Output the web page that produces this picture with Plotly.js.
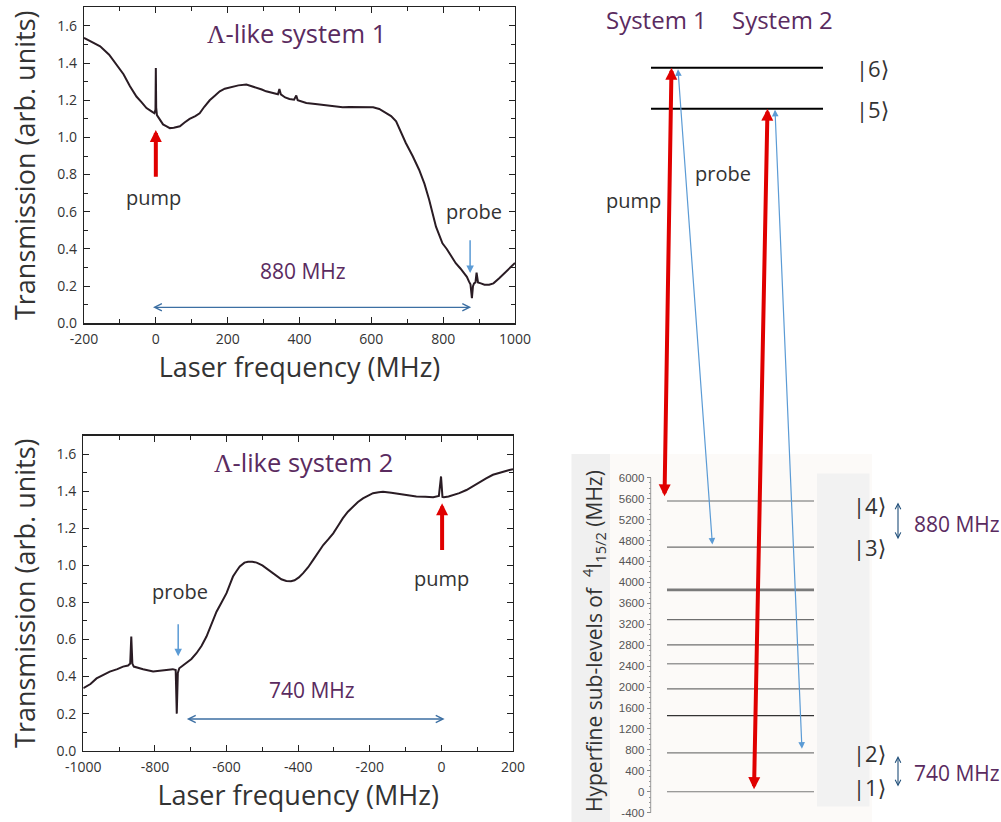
<!DOCTYPE html>
<html>
<head>
<meta charset="utf-8">
<script src="https://cdn.plot.ly/plotly-3.0.1.min.js"></script>
<style>html,body{margin:0;padding:0;background:#fff;}#chart{width:1001px;height:822px;}</style>
</head>
<body>
<div id="chart"></div>
<script>
// ---------- Data: Lambda-like system 1 (transmission vs laser frequency) ----------
const sys1Freq = [-200,-180,-155,-130,-109,-90,-72,-54,-40,-26,-12,-4,-1,0,1,3,6,12,20,30,39,50,67,80,94,110,122,135,150,165,178,192,206,230,252,265,280,295,307,325,340,344,348,360,372,385,391,395,405,419,450,493,520,539,560,585,605,622,641,655,669,682,696,715,733,748,761,780,790,798,810,817,835,848,858,866,872,876,880,883,886,890,893,897,905,915,928,940,956,975,997,1000];
const sys1Trans = [1.536,1.515,1.49,1.445,1.39,1.34,1.275,1.22,1.19,1.158,1.14,1.13,1.15,1.374,1.16,1.12,1.11,1.09,1.07,1.06,1.05,1.052,1.06,1.08,1.10,1.115,1.13,1.165,1.20,1.225,1.248,1.262,1.27,1.28,1.285,1.278,1.27,1.258,1.248,1.24,1.232,1.26,1.232,1.215,1.207,1.203,1.225,1.2,1.195,1.185,1.178,1.167,1.162,1.164,1.163,1.165,1.162,1.153,1.131,1.115,1.087,1.03,0.97,0.9,0.826,0.75,0.665,0.52,0.47,0.43,0.4,0.377,0.323,0.295,0.27,0.25,0.224,0.21,0.135,0.2,0.215,0.22,0.273,0.22,0.215,0.208,0.207,0.215,0.242,0.28,0.323,0.325];

// ---------- Data: Lambda-like system 2 ----------
const sys2Freq = [-1000,-980,-963,-945,-926,-905,-889,-875,-869,-866,-863,-859,-845,-833,-805,-785,-768,-750,-742,-739,-736,-732,-722,-712,-698,-684,-670,-656,-642,-628,-614,-600,-590,-582,-572,-563,-550,-540,-528,-516,-500,-489,-475,-461,-447,-433,-420,-410,-398,-386,-372,-358,-344,-330,-316,-302,-288,-275,-261,-247,-233,-219,-205,-191,-175,-163,-140,-116,-92,-70,-45,-23,-7,-1,3,7,20,33,50,70,90,107,125,144,170,190,200];
const sys2Trans = [0.337,0.36,0.39,0.41,0.427,0.44,0.454,0.46,0.47,0.616,0.47,0.454,0.445,0.44,0.427,0.43,0.436,0.44,0.435,0.20,0.42,0.445,0.46,0.475,0.495,0.526,0.565,0.616,0.68,0.75,0.80,0.85,0.90,0.94,0.97,0.994,1.015,1.02,1.02,1.015,1.0,0.985,0.965,0.943,0.925,0.916,0.915,0.92,0.935,0.958,0.99,1.03,1.07,1.11,1.14,1.173,1.215,1.255,1.29,1.318,1.342,1.362,1.378,1.39,1.395,1.398,1.392,1.386,1.378,1.372,1.37,1.368,1.375,1.48,1.37,1.368,1.372,1.38,1.39,1.407,1.43,1.452,1.47,1.489,1.505,1.515,1.519];

// ---------- Tick labels ----------
const freqTicks1 = [-200, 0, 200, 400, 600, 800, 1000];
const freqTicks2 = [-1000, -800, -600, -400, -200, 0, 200];
const transTicks = [0, 0.2, 0.4, 0.6, 0.8, 1.0, 1.2, 1.4, 1.6];

// ---------- Data: hyperfine sub-levels of 4I15/2 (MHz) ----------
const hyperfineLevels = [0, 744, 1455, 1965, 2445, 2805, 3290, 3845, 3870, 4675, 5555];
const levelLabels = {1: 0, 2: 744, 3: 4675, 4: 5555};
// excited levels |5>, |6> drawn schematically above the axis break
const upperLevels = {5: 13050, 6: 13833};
const splittings = ["880 MHz", "740 MHz"];
const energyTicks = [-400,0,400,800,1200,1600,2000,2400,2800,3200,3600,4000,4400,4800,5200,5600,6000];

// ---------- Styles ----------
const FONT = "Open Sans, Noto Sans, DejaVu Sans, sans-serif";
const PURPLE = "#5a2b5f";
const DARK = "#333333";
const RED = "#e00000";
const LBLUE = "#5b9bd5";
const SBLUE = "#3c6fa3";
const NAVY = "#1f4e79";
const lam = '<span style="font-family:Liberation Serif">Λ</span>';

const px2paperX = p => p / 1001;
const px2paperY = p => 1 - p / 822;
const lab = v => String(v).replace("\u2212", "-");

function transAxisX(domain, range, anchor, ticks) {
  return {
    domain: domain, range: range, anchor: anchor,
    tickmode: "array", tickvals: ticks, ticktext: ticks.map(lab),
    ticks: "inside", ticklen: 6, tickwidth: 1, tickcolor: "#222", ticklabelstandoff: 3,
    minor: {tickmode: "linear", tick0: 0, dtick: 100, ticks: "inside", ticklen: 4, tickcolor: "#222"},
    showline: true, linecolor: "#222", linewidth: 1.3, mirror: "ticks",
    showgrid: false, zeroline: false,
    tickfont: {family: FONT, size: 14, color: DARK},
    title: {text: "Laser frequency (MHz)", font: {family: FONT, size: 27, color: DARK}, standoff: 7}
  };
}
function transAxisY(domain, anchor) {
  return {
    domain: domain, range: [0, 1.7], anchor: anchor,
    tickmode: "array", tickvals: transTicks, ticktext: transTicks.map(v => v.toFixed(1)),
    ticks: "inside", ticklen: 6, tickwidth: 1, tickcolor: "#222", ticklabelstandoff: 3,
    minor: {tickmode: "linear", tick0: 0, dtick: 0.1, ticks: "inside", ticklen: 4, tickcolor: "#222"},
    showline: true, linecolor: "#222", linewidth: 1.3, mirror: "ticks",
    showgrid: false, zeroline: false,
    tickfont: {family: FONT, size: 14, color: DARK},
    title: {text: "Transmission (arb. units)", font: {family: FONT, size: 27, color: DARK}, standoff: 13}
  };
}

const traces = [
  {x: sys1Freq, y: sys1Trans, xaxis: "x", yaxis: "y", type: "scatter", mode: "lines",
   line: {color: "#2a1c24", width: 2}, hoverinfo: "skip"},
  {x: sys2Freq, y: sys2Trans, xaxis: "x2", yaxis: "y2", type: "scatter", mode: "lines",
   line: {color: "#2a1c24", width: 2}, hoverinfo: "skip"}
];

// ---------- shapes ----------
const shapes = [];
// backgrounds of the energy diagram
shapes.push({type: "rect", xref: "paper", yref: "paper", layer: "below",
  x0: px2paperX(610), x1: px2paperX(872), y0: 0, y1: px2paperY(454),
  fillcolor: "#fcfaf8", line: {width: 0}});
shapes.push({type: "rect", xref: "paper", yref: "paper", layer: "below",
  x0: px2paperX(571.5), x1: px2paperX(610), y0: 0, y1: px2paperY(454),
  fillcolor: "#f0f0f0", line: {width: 0}});
shapes.push({type: "rect", xref: "paper", yref: "paper", layer: "below",
  x0: px2paperX(817), x1: px2paperX(869.5), y0: px2paperY(806.5), y1: px2paperY(473.5),
  fillcolor: "#f2f2f2", line: {width: 0}});
// energy axis line
shapes.push({type: "line", xref: "paper", yref: "y3", x0: px2paperX(650.7), x1: px2paperX(650.7),
  y0: energyTicks[0], y1: energyTicks[energyTicks.length - 1], line: {color: "#9a9a9a", width: 1}});
// hyperfine level lines
const levelStyle = {0: ["#7a7a7a", 1.2], 744: ["#7a7a7a", 1.2], 1455: ["#333", 1.3], 1965: ["#6f6f6f", 1.2],
  2445: ["#999", 1.6], 2805: ["#6f6f6f", 1.2], 3290: ["#6f6f6f", 1.2], 3845: ["#7a7a7a", 1.4],
  3870: ["#7a7a7a", 1.4], 4675: ["#6f6f6f", 1.2], 5555: ["#9a9a9a", 1.6]};
hyperfineLevels.forEach(v => {
  const st = levelStyle[v] || ["#777", 1.2];
  shapes.push({type: "line", xref: "x3", yref: "y3", x0: 667, x1: 814, y0: v, y1: v,
    line: {color: st[0], width: st[1]}});
});
// excited levels
Object.values(upperLevels).forEach(v => {
  shapes.push({type: "line", xref: "x3", yref: "y3", x0: 651, x1: 823, y0: v, y1: v,
    line: {color: "#000", width: 2}});
});

// ---------- annotations ----------
const ann = [];
function txt(o) {
  return Object.assign({showarrow: false, xanchor: "center", yanchor: "middle",
    font: {family: FONT, size: 20, color: DARK}}, o);
}
// panel 1
ann.push(txt({xref: "x", yref: "y", x: 391, y: 1.56, text: lam + "-like system 1", font: {family: FONT, size: 25.5, color: PURPLE}}));
ann.push(txt({xref: "x", yref: "y", x: -6, y: 0.675, text: "pump"}));
ann.push(txt({xref: "x", yref: "y", x: 886, y: 0.60, text: "probe"}));
ann.push(txt({xref: "x", yref: "y", x: 411, y: 0.28, text: splittings[0], font: {family: FONT, size: 21, color: PURPLE}}));
ann.push({xref: "x", yref: "y", axref: "x", ayref: "y", x: 0, y: 1.04, ax: 0, ay: 0.78, text: "", showarrow: true,
  arrowhead: 2, arrowsize: 0.6, arrowwidth: 4, arrowcolor: RED});
ann.push({xref: "x", yref: "y", axref: "x", ayref: "y", x: 875, y: 0.27, ax: 875, ay: 0.455, text: "", showarrow: true,
  arrowhead: 2, arrowsize: 1, arrowwidth: 1.5, arrowcolor: LBLUE});
ann.push({xref: "x", yref: "y", axref: "x", ayref: "y", x: 878, y: 0.086, ax: -12, ay: 0.086, text: "", showarrow: true,
  arrowside: "end+start", arrowhead: 5, startarrowhead: 5, arrowsize: 1.1, startarrowsize: 1.1, arrowwidth: 1.3, arrowcolor: SBLUE});
// panel 2
ann.push(txt({xref: "x2", yref: "y2", x: -386, y: 1.56, text: lam + "-like system 2", font: {family: FONT, size: 25.5, color: PURPLE}}));
ann.push(txt({xref: "x2", yref: "y2", x: -731, y: 0.86, text: "probe"}));
ann.push(txt({xref: "x2", yref: "y2", x: 0, y: 0.93, text: "pump"}));
ann.push(txt({xref: "x2", yref: "y2", x: -361, y: 0.328, text: splittings[1], font: {family: FONT, size: 21, color: PURPLE}}));
ann.push({xref: "x2", yref: "y2", axref: "x2", ayref: "y2", x: 2, y: 1.335, ax: 2, ay: 1.075, text: "", showarrow: true,
  arrowhead: 2, arrowsize: 0.6, arrowwidth: 4, arrowcolor: RED});
ann.push({xref: "x2", yref: "y2", axref: "x2", ayref: "y2", x: -735, y: 0.51, ax: -735, ay: 0.69, text: "", showarrow: true,
  arrowhead: 2, arrowsize: 1, arrowwidth: 1.5, arrowcolor: LBLUE});
ann.push({xref: "x2", yref: "y2", axref: "x2", ayref: "y2", x: 9, y: 0.171, ax: -715, ay: 0.171, text: "", showarrow: true,
  arrowside: "end+start", arrowhead: 5, startarrowhead: 5, arrowsize: 1.1, startarrowsize: 1.1, arrowwidth: 1.3, arrowcolor: SBLUE});
// energy diagram
ann.push(txt({xref: "paper", yref: "paper", x: px2paperX(656), y: px2paperY(20), text: "System 1", font: {family: FONT, size: 24, color: PURPLE}}));
ann.push(txt({xref: "paper", yref: "paper", x: px2paperX(782), y: px2paperY(20), text: "System 2", font: {family: FONT, size: 24, color: PURPLE}}));
ann.push(txt({xref: "x3", yref: "y3", x: 633, y: 11300, text: "pump"}));
ann.push(txt({xref: "x3", yref: "y3", x: 723, y: 11820, text: "probe"}));
ann.push(txt({xref: "x3", yref: "y3", x: 872, y: upperLevels[6], text: "|6⟩", font: {family: FONT, size: 22, color: DARK}}));
ann.push(txt({xref: "x3", yref: "y3", x: 872, y: upperLevels[5], text: "|5⟩", font: {family: FONT, size: 22, color: DARK}}));
ann.push(txt({xref: "x3", yref: "y3", x: 869, y: levelLabels[4], yshift: -4, text: "|4⟩", font: {family: FONT, size: 22, color: DARK}}));
ann.push(txt({xref: "x3", yref: "y3", x: 869, y: levelLabels[3], text: "|3⟩", font: {family: FONT, size: 22, color: DARK}}));
ann.push(txt({xref: "x3", yref: "y3", x: 869, y: levelLabels[2], text: "|2⟩", font: {family: FONT, size: 22, color: DARK}}));
ann.push(txt({xref: "x3", yref: "y3", x: 869, y: levelLabels[1], yshift: 5, text: "|1⟩", font: {family: FONT, size: 22, color: DARK}}));
ann.push(txt({xref: "x3", yref: "y3", x: 912, y: (levelLabels[4] + levelLabels[3]) / 2, xanchor: "left", text: splittings[0], font: {family: FONT, size: 21, color: PURPLE}}));
ann.push(txt({xref: "x3", yref: "y3", x: 912, y: (levelLabels[2] + levelLabels[1]) / 2 - 20, xanchor: "left", text: splittings[1], font: {family: FONT, size: 21, color: PURPLE}}));
ann.push({xref: "x3", yref: "y3", axref: "x3", ayref: "y3", x: 898, y: levelLabels[3] + 150, ax: 898, ay: levelLabels[4], text: "", showarrow: true,
  arrowside: "end+start", arrowhead: 5, startarrowhead: 5, arrowsize: 1, startarrowsize: 1, arrowwidth: 1.1, arrowcolor: NAVY});
ann.push({xref: "x3", yref: "y3", axref: "x3", ayref: "y3", x: 898, y: levelLabels[1] + 100, ax: 898, ay: levelLabels[2] - 30, text: "", showarrow: true,
  arrowside: "end+start", arrowhead: 5, startarrowhead: 5, arrowsize: 1, startarrowsize: 1, arrowwidth: 1.1, arrowcolor: NAVY});
// transitions: system 1 (|4> <-> |6> pump, |3> <-> |6> probe), system 2 (|1> <-> |5> pump, |2> <-> |5> probe)
ann.push({xref: "x3", yref: "y3", axref: "x3", ayref: "y3", x: 671.5, y: upperLevels[6], ax: 664.5, ay: levelLabels[4] + 60, text: "", showarrow: true,
  arrowside: "end+start", arrowhead: 2, startarrowhead: 2, arrowsize: 0.6, startarrowsize: 0.6, arrowwidth: 4, arrowcolor: RED});
ann.push({xref: "x3", yref: "y3", axref: "x3", ayref: "y3", x: 678, y: upperLevels[6] - 30, ax: 712.5, ay: levelLabels[3] + 20, text: "", showarrow: true,
  arrowside: "end+start", arrowhead: 2, startarrowhead: 2, arrowsize: 1.1, startarrowsize: 1.1, arrowwidth: 1.2, arrowcolor: LBLUE});
ann.push({xref: "x3", yref: "y3", axref: "x3", ayref: "y3", x: 767.5, y: upperLevels[5], ax: 754, ay: levelLabels[1] + 20, text: "", showarrow: true,
  arrowside: "end+start", arrowhead: 2, startarrowhead: 2, arrowsize: 0.6, startarrowsize: 0.6, arrowwidth: 4, arrowcolor: RED});
ann.push({xref: "x3", yref: "y3", axref: "x3", ayref: "y3", x: 775, y: upperLevels[5] - 20, ax: 802, ay: levelLabels[2] + 50, text: "", showarrow: true,
  arrowside: "end+start", arrowhead: 2, startarrowhead: 2, arrowsize: 1.1, startarrowsize: 1.1, arrowwidth: 1.2, arrowcolor: LBLUE});
// energy axis title
ann.push(txt({xref: "paper", yref: "paper", x: px2paperX(593), y: px2paperY(641), textangle: -90,
  text: "Hyperfine sub-levels of  <sup>4</sup>I<sub>15/2</sub> (MHz)", font: {family: FONT, size: 21, color: DARK}}));

// energy axis minor ticks every 100 MHz
const minorE = [];
for (let i = 0; i < energyTicks.length - 1; i++) {
  const a = energyTicks[i], b = energyTicks[i + 1];
  minorE.push(a + (b - a) / 4, a + (b - a) / 2, a + 3 * (b - a) / 4);
}

const layout = {
  width: 1001, height: 822,
  margin: {l: 0, r: 0, t: 0, b: 0},
  paper_bgcolor: "#ffffff", plot_bgcolor: "rgba(0,0,0,0)",
  showlegend: false,
  font: {family: FONT, color: DARK},
  xaxis: transAxisX([84 / 1001, 515 / 1001], [-200, 1000], "y", freqTicks1),
  yaxis: transAxisY([1 - 323.3 / 822, 1 - 7.3 / 822], "x"),
  xaxis2: transAxisX([83.3 / 1001, 513 / 1001], [-1000, 200], "y2", freqTicks2),
  yaxis2: transAxisY([1 - 750.7 / 822, 1 - 435.7 / 822], "x2"),
  xaxis3: {domain: [560 / 1001, 1], range: [560, 1001], anchor: "y3", visible: false, fixedrange: true},
  yaxis3: {domain: [0, 1], range: [-577.7, 15127], anchor: "free", position: 650.7 / 1001, side: "left",
    showline: false, showgrid: false, zeroline: false,
    tickmode: "array", tickvals: energyTicks, ticktext: energyTicks.map(lab), ticks: "outside", ticklen: 4, tickcolor: "#8a8a8a",
    minor: {tickmode: "array", tickvals: minorE, ticks: "outside", ticklen: 2, tickcolor: "#9a9a9a"},
    tickfont: {family: "Liberation Sans, Arial, sans-serif", size: 11.5, color: "#555"}, fixedrange: true},
  shapes: shapes,
  annotations: ann
};

Plotly.newPlot("chart", traces, layout, {displayModeBar: false, staticPlot: true});
</script>
</body>
</html>
